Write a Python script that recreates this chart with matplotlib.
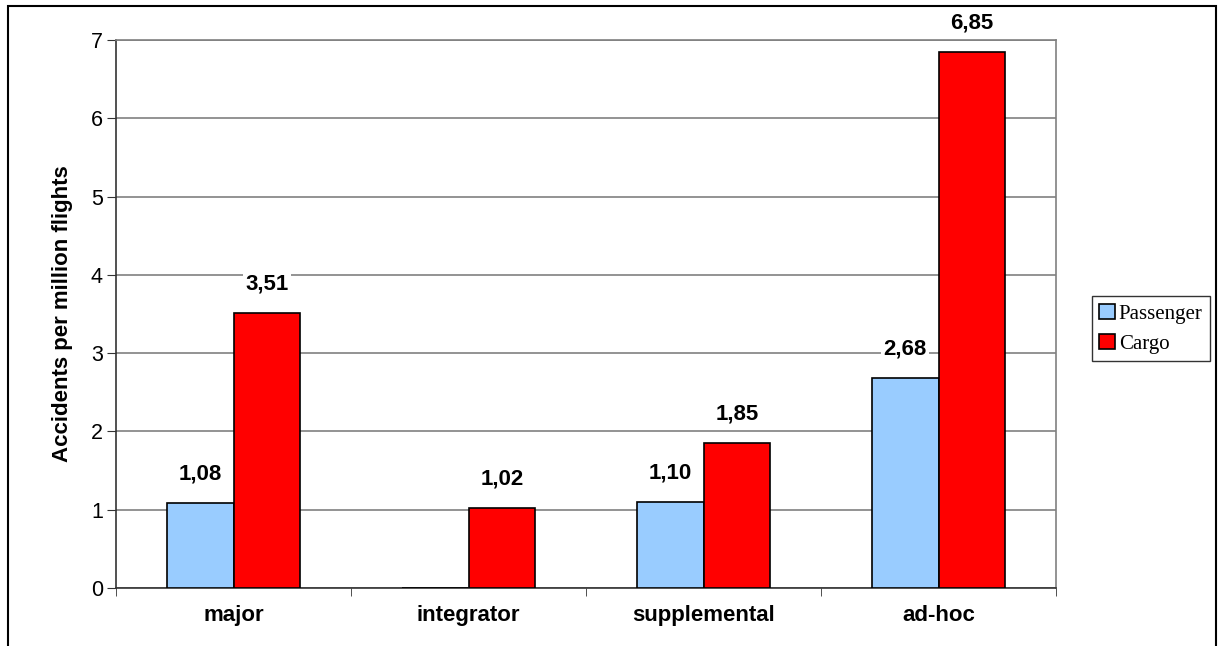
import numpy as np
from matplotlib import pyplot as plt
from matplotlib.patches import Rectangle

categories = ["major", "integrator", "supplemental", "ad-hoc"]
passenger = [1.08, 0.0, 1.10, 2.68]
cargo = [3.51, 1.02, 1.85, 6.85]
series_names = ["Passenger", "Cargo"]

plt.rcParams["font.family"] = ["Liberation Sans", "DejaVu Sans"]

fig = plt.figure(figsize=(12.23, 6.46), dpi=100)
ax = fig.add_axes([116 / 1223, 58 / 646, 940 / 1223, 548 / 646])

# outer frame around the chart
fig.patches.append(Rectangle((8 / 1223, -0.1), 1208 / 1223, 1.1 - 6 / 646,
                             transform=fig.transFigure, fill=False,
                             edgecolor="black", linewidth=1.5))

x = np.arange(len(categories))
w = 0.285
bars_p = ax.bar(x - w / 2, passenger, w, color="#99CCFF", edgecolor="black",
                linewidth=1.2, label=series_names[0], zorder=3)
bars_c = ax.bar(x + w / 2, cargo, w, color="#FF0000", edgecolor="black",
                linewidth=1.2, label=series_names[1], zorder=3)

for bars, vals in [(bars_p, passenger), (bars_c, cargo)]:
    for b, v in zip(bars, vals):
        if v == 0:
            continue
        ax.annotate(f"{v:.2f}".replace(".", ","),
                    (b.get_x() + b.get_width() / 2, v),
                    xytext=(0, 29), textcoords="offset pixels",
                    ha="center", va="center", fontsize=16, fontweight="bold",
                    bbox=dict(facecolor="white", edgecolor="none", pad=2),
                    zorder=4)

ax.set_xlim(-0.5, 3.5)
ax.set_ylim(0, 7)
ax.set_yticks(range(0, 8))
ax.yaxis.grid(True, color="#808080", linewidth=1.2, zorder=0)
ax.set_axisbelow(True)

ax.set_xticks(x)
ax.set_xticklabels(categories, fontsize=16, fontweight="bold")
ax.set_xticks(np.arange(-0.5, 4.0, 1.0), minor=True)
ax.tick_params(axis="x", which="major", length=0, pad=12)
ax.tick_params(axis="x", which="minor", length=6, direction="out", color="#333333")
ax.tick_params(axis="y", labelsize=15.5, length=6.5, direction="out", pad=3, color="#333333")

ax.spines["left"].set_color("#333333")
ax.spines["bottom"].set_color("#333333")
ax.spines["top"].set_color("#808080")
ax.spines["right"].set_color("#808080")
for s in ax.spines.values():
    s.set_linewidth(1.2)

ax.set_ylabel("Accidents per million flights", fontsize=16, fontweight="bold", labelpad=13)

leg = ax.legend(loc="center left", bbox_to_anchor=(1.038, 0.473),
                prop={"family": "Liberation Serif", "size": 15},
                frameon=True, fancybox=False, edgecolor="black",
                handlelength=0.75, handleheight=0.75, handletextpad=0.2,
                borderpad=0.35, labelspacing=0.5, borderaxespad=0)
leg.get_frame().set_linewidth(1.0)

fig.savefig("out.png", dpi=100)
